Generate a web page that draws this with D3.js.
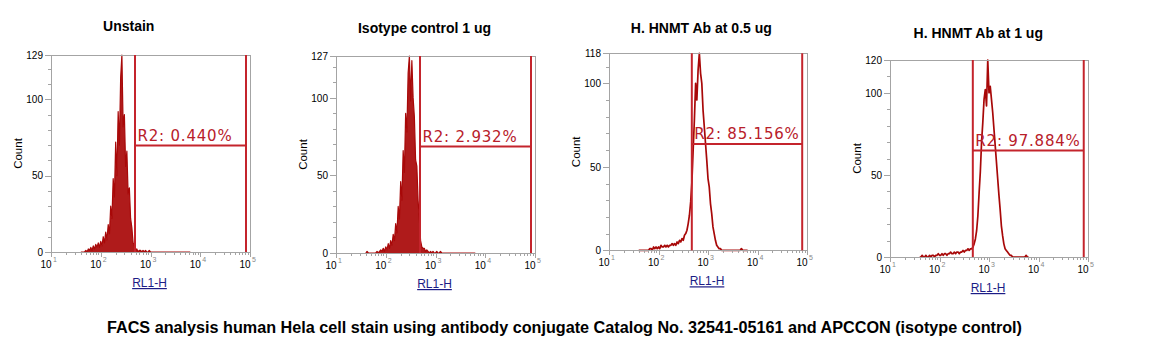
<!DOCTYPE html>
<html><head><meta charset="utf-8">
<script src="https://cdn.jsdelivr.net/npm/d3@7"></script>
<style>
body{margin:0;background:#fff;}
svg{display:block;}
</style></head><body>
<svg id="c" width="1167" height="360"></svg>
<script>
// ---------- data ----------
const titles = ["Unstain", "Isotype control 1 ug", "H. HNMT Ab at 0.5 ug", "H. HNMT Ab at 1 ug"];
const maxCounts = [129, 127, 118, 120];
const yTickValues = [0, 50, 100];
const decadeTicks = [10, 100, 1000, 10000, 100000];
const decadeExponents = ["1", "2", "3", "4", "5"];
const xAxisLabel = "RL1-H";
const yAxisLabel = "Count";
const caption = "FACS analysis human Hela cell stain using antibody conjugate Catalog No. 32541-05161 and APCCON (isotype control)";

// histogram channels (log10 of RL1-H)
const channelsLog10 = [
  1.600,1.625,1.650,1.675,1.700,1.725,1.750,1.775,1.800,1.825,
  1.850,1.875,1.900,1.925,1.950,1.975,2.000,2.025,2.050,2.075,
  2.100,2.125,2.150,2.175,2.200,2.225,2.250,2.275,2.300,2.325,
  2.350,2.375,2.400,2.425,2.450,2.475,2.500,2.525,2.550,2.575,
  2.600,2.625,2.650,2.675,2.700,2.725,2.750,2.775,2.800,2.825,
  2.850,2.875,2.900,2.925,2.950,2.975,3.000,3.025,3.050,3.075,
  3.100,3.125,3.150,3.175,3.200,3.225,3.250,3.275,3.300,3.325,
  3.350,3.375,3.400,3.425,3.450,3.475,3.500,3.525,3.550,3.575,
  3.600,3.625,3.650,3.675,3.700,3.725,3.750,3.775,3.800
];
const unstainCounts = [
  0,0,0,0,1,0,2,1,3,1,
  4,2,5,3,6,3,7,4,10,6,
  13,8,18,12,30,22,48,36,72,50,
  92,70,114,129,82,90,56,66,38,42,
  22,16,6,4,1,2,0,1,1,0,
  1,0,1,0,0,1,0,0,0,0,
  0,0,0,0,0,0,0,0,0,0,
  0,0,0,0,0,0,0,0,0,0,
  0,0,0,0,0,0,0,0,0
];
const isotypeCounts = [
  0,1,0,0,0,0,0,0,0,1,
  0,1,2,1,3,1,4,2,6,3,
  8,5,12,8,19,13,30,22,46,34,
  66,52,90,78,116,127,98,124,100,88,
  60,56,34,22,8,4,3,3,1,2,
  1,0,1,0,1,0,0,1,0,0,
  1,0,0,0,0,0,0,0,0,0,
  0,0,0,0,0,0,0,0,0,0,
  0,0,0,0,0,0,0,0,0
];
const hnmt05Counts = [
  0,0,0,0,0,0,0,0,0,1,
  1,0,2,1,2,1,2,1,3,2,
  2,3,2,3,2,3,3,4,3,4,
  3,5,4,6,5,7,6,9,10,12,
  16,21,29,41,60,78,100,90,108,118,
  106,100,84,74,64,54,43,38,28,22,
  14,10,6,3,2,1,1,0,0,0,
  0,0,0,0,0,0,0,0,0,0,
  0,0,0,1,0,0,0,0,0
];
const hnmt1Counts = [
  0,0,1,0,0,1,0,0,1,0,
  1,1,0,1,1,2,1,1,2,1,
  2,2,1,2,2,3,2,2,3,2,
  3,3,2,3,3,4,3,4,4,5,
  4,5,5,6,8,11,16,25,39,52,
  70,82,96,102,92,120,100,104,96,88,
  78,68,58,48,38,29,19,13,8,5,
  4,3,2,1,1,0,0,0,0,0,
  0,0,0,0,0,0,1,0,0
];
const gateLow = [488, 488, 471, 471];
const gateHigh = [83000, 83000, 80000, 82000];
const gateLevel = [69.7, 68.6, 63.6, 64.8];
const gateLabels = ["R2: 0.440%", "R2: 2.932%", "R2: 85.156%", "R2: 97.884%"];

// ---------- layout ----------
const layout = [
  {left:51,  top:55,   w:199, h:197, titleX:128.7, titleY:31,   filled:true},
  {left:336, top:56,   w:199, h:197, titleX:424.5, titleY:32.5, filled:true},
  {left:609, top:53.3, w:198, h:197, titleX:701.3, titleY:33,   filled:false},
  {left:890, top:60,   w:198, h:197, titleX:978.3, titleY:38,   filled:false}
];
const countSeries = [unstainCounts, isotypeCounts, hnmt05Counts, hnmt1Counts];
const HIST = "#a80808", GATE = "#c4242c", AXIS = "#a4a4a4";

const svg = d3.select("#c");

layout.forEach((p, k) => {
  const g = svg.append("g").attr("transform", `translate(${p.left},${p.top})`);
  const x = d3.scaleLog().domain([decadeTicks[0], decadeTicks[decadeTicks.length-1]]).range([0, p.w]);
  const y = d3.scaleLinear().domain([0, maxCounts[k]]).range([p.h, 0]);

  // histogram
  const pts = channelsLog10.map((c, i) => [Math.pow(10, c), countSeries[k][i]]);
  if (p.filled) {
    g.append("path").datum(pts)
      .attr("d", d3.area().x(d => x(d[0])).y0(p.h).y1(d => y(d[1])))
      .attr("fill", HIST).attr("fill-opacity", 0.92);
  }
  g.append("path").datum(pts)
    .attr("d", d3.line().x(d => x(d[0])).y(d => y(d[1])))
    .attr("fill", "none").attr("stroke", HIST).attr("stroke-width", p.filled ? 1.2 : 1.7)
    .attr("stroke-linejoin", "round");

  // frame
  g.append("rect").attr("x", 0).attr("y", 0).attr("width", p.w).attr("height", p.h)
    .attr("fill", "none").attr("stroke", AXIS).attr("shape-rendering", "crispEdges");

  // y axis major
  const yAx = g.append("g").call(d3.axisLeft(y).tickValues(yTickValues.concat([maxCounts[k]]))
      .tickSize(6).tickPadding(2).tickFormat(d3.format("d")));
  yAx.select(".domain").remove();
  yAx.selectAll("line").attr("stroke", AXIS).attr("shape-rendering", "crispEdges");
  yAx.selectAll("text").attr("fill", "#000").style("font", "10px 'Liberation Sans', Arial");
  // y minor
  const yMin = g.append("g").call(d3.axisLeft(y)
      .tickValues(d3.range(10, maxCounts[k], 10).filter(v => v % 50 !== 0))
      .tickSize(3).tickFormat(""));
  yMin.select(".domain").remove();
  yMin.selectAll("line").attr("stroke", AXIS).attr("shape-rendering", "crispEdges");

  // x axis
  const xMaj = g.append("g").attr("transform", `translate(0,${p.h})`)
    .call(d3.axisBottom(x).tickValues(decadeTicks).tickSize(5).tickFormat(""));
  xMaj.select(".domain").remove();
  xMaj.selectAll("line").attr("stroke", AXIS).attr("shape-rendering", "crispEdges");
  const minors = x.ticks().filter(v => decadeTicks.indexOf(v) < 0);
  const xMin = g.append("g").attr("transform", `translate(0,${p.h})`)
    .call(d3.axisBottom(x).tickValues(minors).tickSize(3).tickFormat(""));
  xMin.select(".domain").remove();
  xMin.selectAll("line").attr("stroke", AXIS).attr("shape-rendering", "crispEdges");

  decadeTicks.forEach((v, i) => {
    g.append("text").attr("x", x(v) + 0.5).attr("y", p.h + 16)
      .attr("text-anchor", "end").attr("fill", "#000")
      .style("font", "10px 'Liberation Sans', Arial").text("10");
    g.append("text").attr("x", x(v) + 2).attr("y", p.h + 10)
      .attr("fill", "#888").style("font", "7px 'Liberation Sans', Arial").text(decadeExponents[i]);
  });

  // gate
  const gx1 = x(gateLow[k]), gx2 = x(gateHigh[k]), gy = y(gateLevel[k]);
  g.append("line").attr("x1", gx1).attr("x2", gx1).attr("y1", 0).attr("y2", p.h)
    .attr("stroke", GATE).attr("stroke-width", 2);
  g.append("line").attr("x1", gx2).attr("x2", gx2).attr("y1", 0).attr("y2", p.h)
    .attr("stroke", GATE).attr("stroke-width", 2);
  g.append("line").attr("x1", gx1).attr("x2", gx2).attr("y1", gy).attr("y2", gy)
    .attr("stroke", GATE).attr("stroke-width", 2);
  g.append("text").attr("x", gx1 + 2.5).attr("y", gy - 5)
    .attr("fill", "#b8202a")
    .style("font", "15px 'DejaVu Sans', Verdana, sans-serif")
    .style("letter-spacing", "0.8px")
    .text(gateLabels[k]);

  // axis titles
  g.append("text").attr("transform", `translate(-33,${p.h/2}) rotate(-90)`)
    .attr("text-anchor", "middle").attr("dy", "0.35em").attr("fill", "#000")
    .style("font", "11.5px 'Liberation Sans', Arial").text(yAxisLabel);
  g.append("text").attr("x", p.w/2 - 1).attr("y", p.h + 35)
    .attr("text-anchor", "middle").attr("fill", "#1c1c86")
    .style("font", "12px 'Liberation Sans', Arial")
    .style("text-decoration", "underline").text(xAxisLabel);

  // panel title
  svg.append("text").attr("x", p.titleX).attr("y", p.titleY)
    .attr("text-anchor", "middle").attr("fill", "#000")
    .style("font", "bold 14px 'Liberation Sans', Arial").text(titles[k]);
});

svg.append("text").attr("x", 564.5).attr("y", 333)
  .attr("text-anchor", "middle").attr("fill", "#000")
  .attr("textLength", 915).attr("lengthAdjust", "spacingAndGlyphs")
  .style("font", "bold 16px 'Liberation Sans', Arial").text(caption);
</script>
</body></html>
